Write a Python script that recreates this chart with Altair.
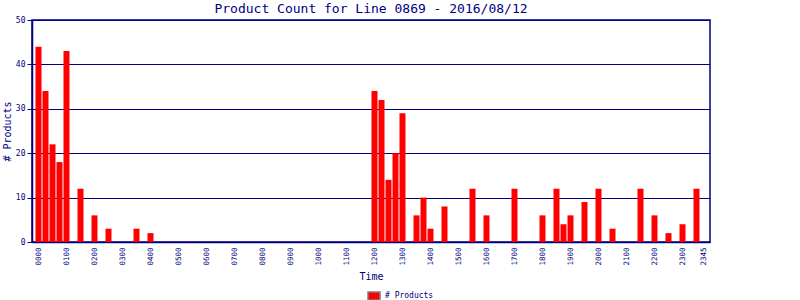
import altair as alt
import pandas as pd

# All 15-minute slots of the day (band-scale domain)
all_slots = [f"{h:02d}{m:02d}" for h in range(24) for m in (0, 15, 30, 45)]

# Slots with products and their counts
times = ["0000", "0015", "0030", "0045", "0100", "0130", "0200", "0230", "0330", "0400",
         "1200", "1215", "1230", "1245", "1300", "1330", "1345", "1400", "1430", "1530",
         "1600", "1700", "1800", "1830", "1845", "1900", "1930", "2000", "2030", "2130",
         "2200", "2230", "2300", "2330"]
counts = [44, 34, 22, 18, 43, 12, 6, 3, 3, 2,
          34, 32, 14, 20, 29, 6, 10, 3, 8, 12,
          6, 12, 6, 12, 4, 6, 9, 12, 3, 12,
          6, 2, 4, 12]

tick_labels = [f"{h:02d}00" for h in range(24)] + ["2345"]
y_ticks = [0, 10, 20, 30, 40, 50]

df = pd.DataFrame({"time": times, "count": counts, "series": "# Products"})

NAVY = "#000080"
FONT = "DejaVu Sans Mono"

chart = alt.Chart(df).mark_bar(color="#ff0000").encode(
    x=alt.X(
        "time:N",
        scale=alt.Scale(domain=all_slots, paddingInner=1/7, paddingOuter=0.5),
        axis=alt.Axis(
            values=tick_labels, title="Time", labelAngle=270, labelAlign="right",
            labelBaseline="middle", labelPadding=5, ticks=False,
            labelFont=FONT, labelFontSize=7.5, labelColor=NAVY,
            titleFont=FONT, titleFontSize=10, titleColor=NAVY, titleFontWeight="normal",
            titlePadding=6, domainColor=NAVY, domainWidth=1.5, grid=False,
            labelOverlap=False,
        ),
    ),
    y=alt.Y(
        "count:Q",
        scale=alt.Scale(domain=[0, 50], nice=False),
        axis=alt.Axis(
            values=y_ticks, title="# Products", grid=True, gridColor=NAVY, gridWidth=1.2,
            gridOpacity=1, tickColor=NAVY, tickSize=5, labelPadding=2,
            labelFont=FONT, labelFontSize=8, labelColor=NAVY,
            titleFont=FONT, titleFontSize=10, titleColor=NAVY, titleFontWeight="normal",
            titlePadding=3, domainColor=NAVY, domainWidth=1.5,
        ),
    ),
    color=alt.Color(
        "series:N",
        scale=alt.Scale(range=["#ff0000"]),
        legend=alt.Legend(
            title=None, orient="none", legendX=335, legendY=269, padding=0,
            symbolType="M-1,-0.667H1V0.667H-1Z", symbolSize=144,
            symbolStrokeColor="#808080", symbolStrokeWidth=1.5, symbolFillColor="#ff0000",
            labelFont=FONT, labelFontSize=8, labelColor=NAVY, labelOffset=4,
        ),
    ),
).properties(
    width=678,
    height=222,
    autosize=alt.AutoSizeParams(type="none"),
    padding={"left": 32, "top": 20, "right": 90, "bottom": 58},
    title=alt.TitleParams(
        "Product Count for Line 0869 - 2016/08/12",
        font=FONT, fontSize=13, color=NAVY, fontWeight="normal",
        anchor="middle", baseline="bottom", offset=0, dy=13,
    ),
).configure(
    background="white",
    view=alt.ViewConfig(stroke=NAVY, strokeWidth=1.5),
)

chart.save("out.html", embed_options={"renderer": "svg", "actions": False})
